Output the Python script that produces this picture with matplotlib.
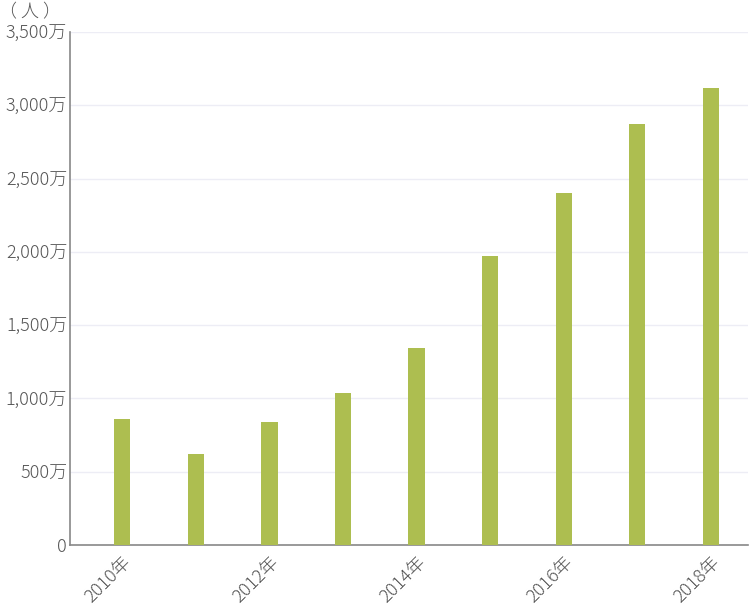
import matplotlib
matplotlib.use("Agg")
import matplotlib.pyplot as plt
from matplotlib.ticker import FuncFormatter, MultipleLocator

plt.rcParams['font.family'] = ['Noto Sans CJK JP', 'DejaVu Sans']

years = [2010, 2011, 2012, 2013, 2014, 2015, 2016, 2017, 2018]
visitors = [861, 622, 836, 1036, 1341, 1974, 2404, 2869, 3119]  # 万人
tick_years = [2010, 2012, 2014, 2016, 2018]
unit_label = "（ 人 ）"

bar_color = "#ADBE50"
text_color = "#555555"

fig = plt.figure(figsize=(7.5, 6.06), dpi=100)
ax = fig.add_axes([0.0933, 0.1007, 0.9037, 0.8465])

x = list(range(len(years)))
ax.bar(x, visitors, width=0.22, color=bar_color, zorder=3)

ax.set_xlim(-0.71, 8.5)
ax.set_ylim(0, 3500)
ax.yaxis.set_major_locator(MultipleLocator(500))
ax.yaxis.set_major_formatter(FuncFormatter(lambda v, p: "0" if v == 0 else f"{int(v):,}万"))
ax.grid(axis='y', color="#EDEDF5", linewidth=1, zorder=0)

ax.set_xticks([years.index(y) for y in tick_years])
ax.set_xticklabels([f"{y}年" for y in tick_years], rotation=45, ha='right',
                   rotation_mode='anchor', fontsize=13, color=text_color,
                   fontweight='light')
ax.tick_params(axis='x', length=0, pad=6)
ax.tick_params(axis='y', length=0, pad=2, labelsize=13, labelcolor=text_color)
for lab in ax.get_yticklabels():
    lab.set_fontweight('light')

for s in ['top', 'right']:
    ax.spines[s].set_visible(False)
ax.spines['left'].set_color("#888888")
ax.spines['bottom'].set_color("#888888")
ax.spines['left'].set_linewidth(1.2)
ax.spines['bottom'].set_linewidth(1.2)

fig.text(0.04, 0.995, unit_label, ha='center', va='top', fontsize=13,
         color=text_color, fontweight='light')

fig.savefig("out.png", dpi=100)
